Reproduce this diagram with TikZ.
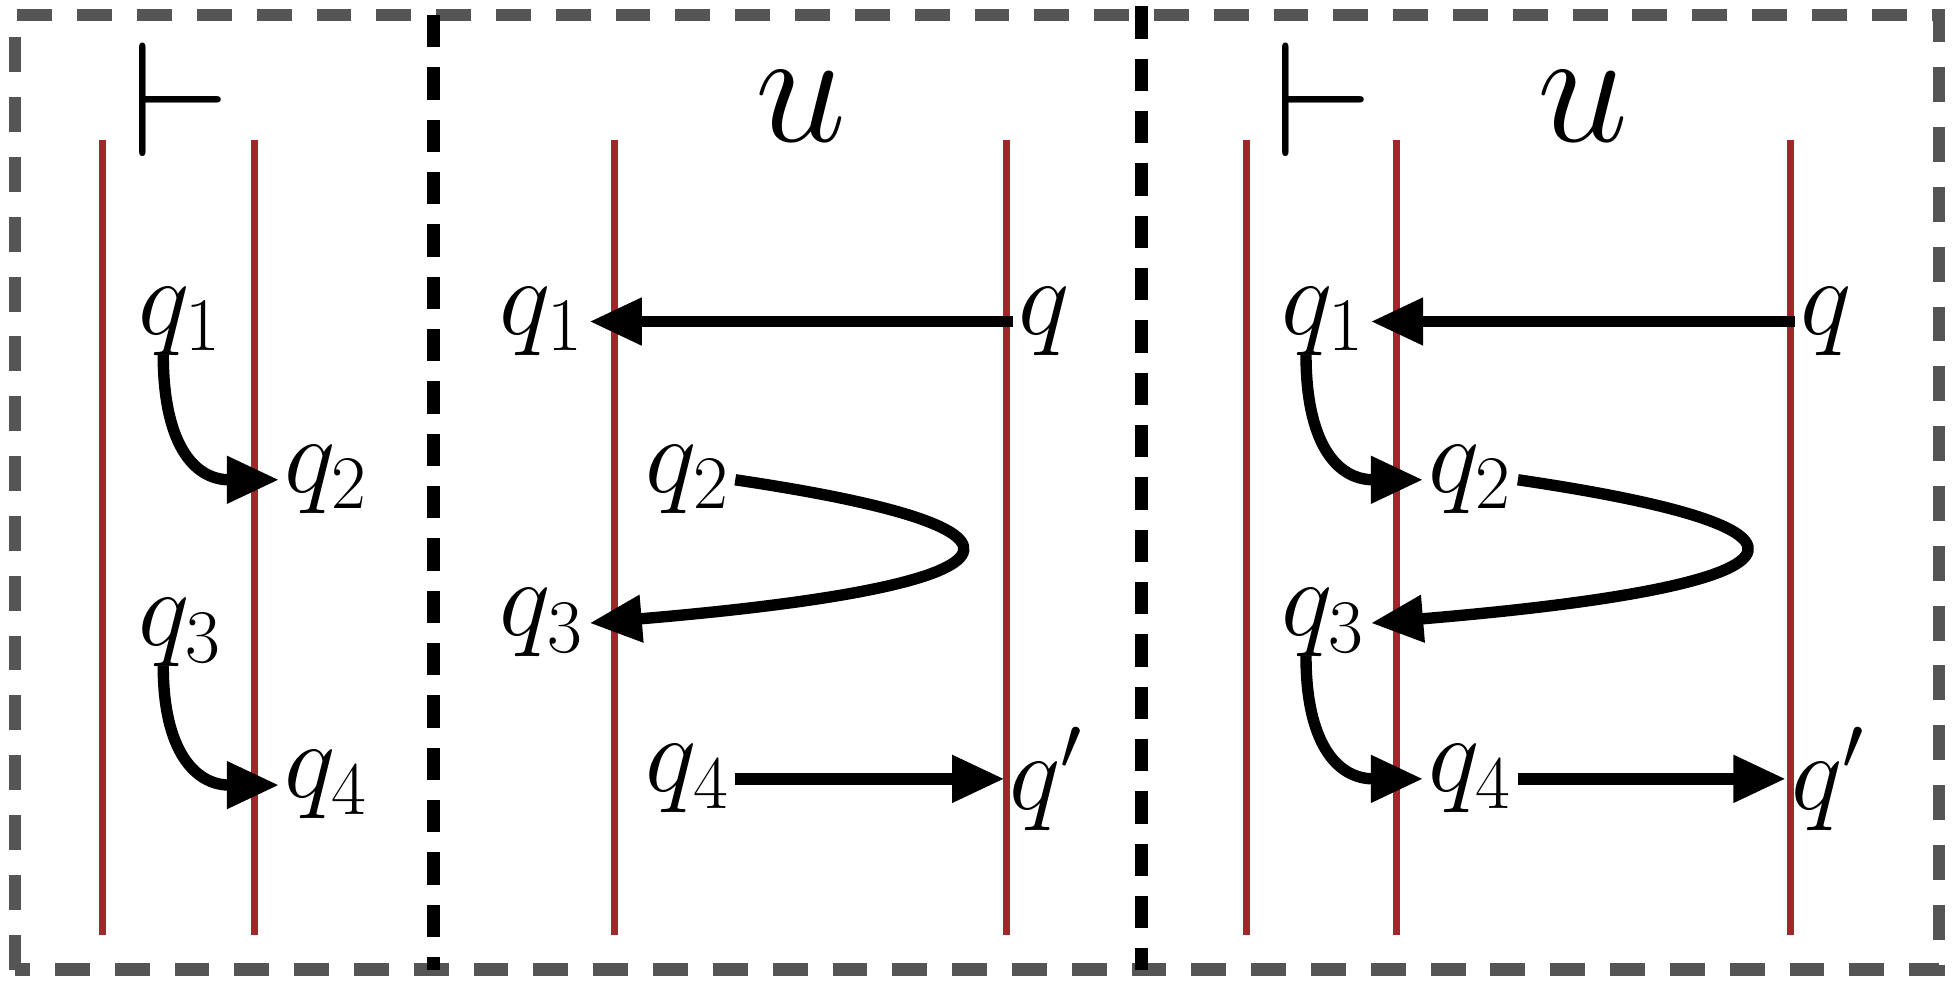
\documentclass[tikz,border=0pt]{standalone}
\usetikzlibrary{arrows.meta}
\definecolor{wallred}{HTML}{A0282C}
\definecolor{boxgray}{HTML}{555555}
\tikzset{
  st/.style={inner sep=1pt,font=\fontsize{23}{26}\selectfont},
  big/.style={inner sep=1pt,scale=1.5,font=\fontsize{24}{28}\selectfont},
  wall/.style={wallred,line width=1.6pt},
  run/.style={line width=2.6pt,-{Triangle[length=0.42cm,width=0.36cm]}},
}
\begin{document}
\begin{tikzpicture}
  \useasboundingbox (0,0) rectangle (15.68,7.9);
  \draw[boxgray,line width=2.8pt,dash pattern=on 0.28cm off 0.2cm] (0.12,0.12) rectangle (15.56,7.78);
  \draw[line width=3pt,dash pattern=on 0.26cm off 0.16cm] (3.48,7.78) -- (3.48,0.12);
  \draw[line width=3pt,dash pattern=on 0.26cm off 0.16cm] (9.16,7.85) -- (9.16,0.12);

  % walls
  \foreach \x in {0.82,2.04,4.93,8.08,10.0,11.21,14.37}
    \draw[wall] (\x,6.78) -- (\x,0.4);

  \node[big] (e1) at (1.45,7.1) {$\vdash$};
  \node[big] (u1) at (6.43,7.05) {$u$};
  \node[big] (e2) at (10.62,7.1) {$\vdash$};
  \node[big] (u2) at (12.70,7.05) {$u$};

  % left block
  \node[st] (a1) at (1.45,5.32) {$q_1$};
  \node[st] (a2) at (2.62,4.05) {$q_2$};
  \node[st] (a3) at (1.45,2.82) {$q_3$};
  \node[st] (a4) at (2.62,1.6) {$q_4$};
  \draw[run] (a1.south west) ++(0.24,0.05) to[out=-90,in=180,looseness=1.3] (a2.west);
  \draw[run] (a3.south west) ++(0.24,0.05) to[out=-90,in=180,looseness=1.3] (a4.west);

  % middle block
  \node[st] (b1) at (4.35,5.32) {$q_1$};
  \node[st] (b0) at (8.38,5.32) {$q$};
  \node[st] (b2) at (5.52,4.05) {$q_2$};
  \node[st] (b3) at (4.35,2.9) {$q_3$};
  \node[st] (b4) at (5.52,1.65) {$q_4$};
  \node[st] (b5) at (8.40,1.65) {$q'$};
  \draw[run] (b0.west) -- (b1.east);
  \draw[run] (b2.east) .. controls (8.6,3.65) and (8.3,3.2) .. (b3.east);
  \draw[run] (b4.east) -- (b5.west);

  % right block
  \node[st] (c1) at (10.62,5.32) {$q_1$};
  \node[st] (c0) at (14.65,5.32) {$q$};
  \node[st] (c2) at (11.80,4.05) {$q_2$};
  \node[st] (c3) at (10.62,2.9) {$q_3$};
  \node[st] (c4) at (11.80,1.65) {$q_4$};
  \node[st] (c5) at (14.67,1.65) {$q'$};
  \draw[run] (c0.west) -- (c1.east);
  \draw[run] (c2.east) .. controls (14.9,3.65) and (14.6,3.2) .. (c3.east);
  \draw[run] (c4.east) -- (c5.west);
  \draw[run] (c1.south west) ++(0.24,0.05) to[out=-90,in=180,looseness=1.3] (c2.west);
  \draw[run] (c3.south west) ++(0.24,0.05) to[out=-90,in=180,looseness=1.3] (c4.west);
\end{tikzpicture}
\end{document}
